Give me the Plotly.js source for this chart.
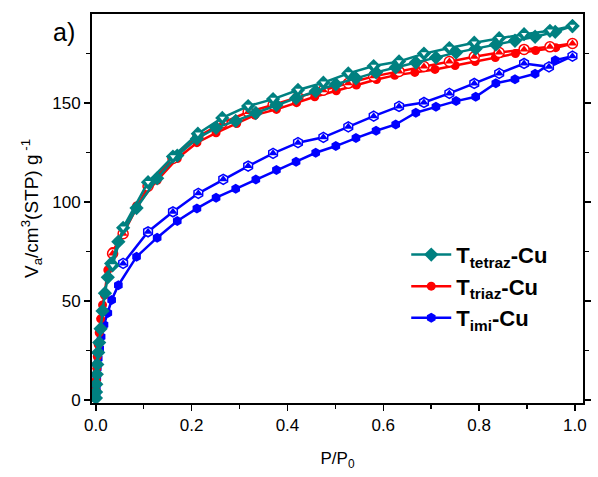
<!DOCTYPE html>
<html>
<head>
<meta charset="utf-8">
<script src="https://cdn.plot.ly/plotly-3.0.1.min.js"></script>
<style>html,body{margin:0;padding:0;background:#fff;}#chart{width:598px;height:477px;}</style>
</head>
<body>
<div id="chart"></div>
<script>
// Tetraz-Cu adsorption
const tetrazAdsX = [0.0002,0.0005,0.001,0.002,0.003,0.005,0.007,0.010,0.014,0.019,0.025,0.032,0.047,0.085,0.128,0.170,0.211,0.251,0.292,0.334,0.377,0.418,0.459,0.501,0.543,0.585,0.626,0.668,0.710,0.752,0.793,0.835,0.875,0.917,0.959,0.995];
const tetrazAdsY = [1,4,8,13,18,24,29,36,45,54,62,69,80,97,112,123.5,132,137.5,141,145,149,152.5,156,159.5,162.5,165.5,168,170.5,173,175.5,177.5,179.5,181.5,183.5,186,188.9];
// Tetraz-Cu desorption
const tetrazDesX = [0.995,0.948,0.894,0.842,0.790,0.738,0.685,0.633,0.580,0.527,0.475,0.422,0.370,0.318,0.264,0.213,0.161,0.109,0.057,0.035];
const tetrazDesY = [188.9,186.5,184.8,182.8,180.5,177.8,175,171,168.7,165,160.3,156.6,152,148.5,142.5,134.5,123,110,87,68];
// Triaz-Cu adsorption
const triazAdsX = [0.0002,0.0005,0.001,0.002,0.003,0.005,0.007,0.010,0.014,0.018,0.025,0.035,0.047,0.085,0.128,0.170,0.211,0.251,0.294,0.332,0.377,0.419,0.457,0.502,0.544,0.586,0.624,0.666,0.708,0.750,0.792,0.834,0.876,0.918,0.960,0.995];
const triazAdsY = [1,5,10,16,22,28,34,41,48,53,65.7,75,80,98,111,122,130,135,139.7,143.9,146.8,150.2,153.2,156.2,159.1,161.9,164,165.5,167,169,171,173,175,176.5,178,180];
// Triaz-Cu desorption
const triazDesX = [0.995,0.948,0.894,0.842,0.790,0.738,0.685,0.633,0.580,0.527,0.475,0.422,0.370,0.318,0.264,0.213,0.161,0.109,0.057,0.035];
const triazDesY = [180.1,178.4,177.1,175.5,173.4,171,168.5,166,163.5,160,156.5,153,149,145.5,140,133,122,108,84,74];
// Imi-Cu adsorption
const imiAdsX = [0.0005,0.001,0.002,0.003,0.005,0.008,0.011,0.017,0.025,0.033,0.047,0.085,0.128,0.170,0.211,0.251,0.292,0.334,0.377,0.418,0.459,0.501,0.543,0.585,0.626,0.668,0.710,0.752,0.793,0.835,0.875,0.917,0.959,0.995];
const imiAdsY = [2,6,11,16,21,26,32,38,44,50.5,58,72.4,82,90.4,96.8,102.2,106.7,111.4,116.2,120.4,124.9,128.3,132.3,136,139.2,145.1,148.1,151,153.2,160,162.1,164.8,171.7,173.7];
// Imi-Cu desorption
const imiDesX = [0.995,0.946,0.894,0.842,0.790,0.738,0.685,0.633,0.580,0.527,0.475,0.422,0.370,0.318,0.266,0.214,0.161,0.109,0.057];
const imiDesY = [173.7,168.3,170,165,159.9,154.9,150.3,148.3,143.4,138,132.7,130,124.6,118.2,111.5,104.4,95.1,85,69];

const legendNames = ['T<sub>imi</sub>-Cu','T<sub>triaz</sub>-Cu','T<sub>tetraz</sub>-Cu'];
const TEAL = '#008080', RED = '#ff0000', BLUE = '#0000ff';

const traces = [
  {x: imiAdsX, y: imiAdsY, mode:'lines+markers', name: legendNames[0], legendgroup:'imi',
   line:{color:BLUE, width:2.5}, marker:{symbol:'hexagon', size:10, color:BLUE}},
  {x: imiDesX, y: imiDesY, mode:'lines+markers', showlegend:false, legendgroup:'imi',
   line:{color:BLUE, width:2.5}, marker:{symbol:'hexagon', size:10, color:'#ffffff', line:{color:BLUE, width:1.5}}},
  {x: imiDesX, y: imiDesY, mode:'markers', showlegend:false, legendgroup:'imi', hoverinfo:'skip',
   marker:{symbol:'triangle-up', size:8, color:BLUE}},
  {x: triazAdsX, y: triazAdsY, mode:'lines+markers', name: legendNames[1], legendgroup:'triaz',
   line:{color:RED, width:2.5}, marker:{symbol:'circle', size:9, color:RED}},
  {x: triazDesX, y: triazDesY, mode:'lines+markers', showlegend:false, legendgroup:'triaz',
   line:{color:RED, width:2.5}, marker:{symbol:'circle', size:10, color:'#ffffff', line:{color:RED, width:1.5}}},
  {x: triazDesX, y: triazDesY, mode:'markers', showlegend:false, legendgroup:'triaz', hoverinfo:'skip',
   marker:{symbol:'triangle-up', size:8, color:RED}},
  {x: tetrazAdsX, y: tetrazAdsY, mode:'lines+markers', name: legendNames[2], legendgroup:'tetraz',
   line:{color:TEAL, width:2.5}, marker:{symbol:'diamond', size:11, color:TEAL}},
  {x: tetrazDesX, y: tetrazDesY, mode:'lines+markers', showlegend:false, legendgroup:'tetraz',
   line:{color:TEAL, width:2.5}, marker:{symbol:'diamond', size:11, color:TEAL}},
  {x: tetrazDesX, y: tetrazDesY, mode:'markers', showlegend:false, legendgroup:'tetraz', hoverinfo:'skip',
   marker:{symbol:'triangle-down', size:5, color:'#ffffff'}}
];

const FAM = 'Liberation Sans, Arial, sans-serif';
const tickFont = {family:FAM, size:17, color:'#000'};

const layout = {
  width:598, height:477,
  margin:{l:92, r:15, t:14, b:74},
  paper_bgcolor:'#fff', plot_bgcolor:'#fff',
  showlegend:true,
  legend:{x:0.64, y:0.435, xanchor:'left', yanchor:'top', traceorder:'reversed',
    bgcolor:'rgba(0,0,0,0)', itemwidth:40, tracegroupgap:0,
    font:{family:FAM, size:22, color:'#000', weight:'bold'}},
  xaxis:{range:[-0.008,1.017], showgrid:false, zeroline:false, showline:true, linecolor:'#000', linewidth:2,
    mirror:true, ticks:'outside', ticklen:6, tickwidth:1.5, tickcolor:'#000', dtick:0.2, tick0:0,
    tickformat:'.1f', tickfont:tickFont,
    minor:{ticks:'outside', dtick:0.1, tick0:0, ticklen:4, tickwidth:1.5, tickcolor:'#000'},
    title:{text:'P/P<sub>0</sub>', font:{family:FAM, size:17, color:'#000'}, standoff:18}},
  yaxis:{range:[-1.5,195], showgrid:false, zeroline:false, showline:true, linecolor:'#000', linewidth:2,
    mirror:'ticks', ticks:'outside', ticklen:6, tickwidth:1.5, tickcolor:'#000', dtick:50, tick0:0,
    tickfont:tickFont,
    minor:{ticks:'outside', dtick:25, tick0:0, ticklen:4, tickwidth:1.5, tickcolor:'#000'},
    title:{text:'V<sub>a</sub>/cm<sup>3</sup>(STP) g<sup> -1</sup>', font:{family:FAM, size:19, color:'#000'}, standoff:9}},
  annotations:[{text:'a)', xref:'paper', yref:'paper', x:-0.03, y:0.955, xanchor:'right', yanchor:'middle',
    showarrow:false, font:{family:FAM, size:25, color:'#000'}}]
};

Plotly.newPlot('chart', traces, layout, {displayModeBar:false, staticPlot:true});
</script>
</body>
</html>
